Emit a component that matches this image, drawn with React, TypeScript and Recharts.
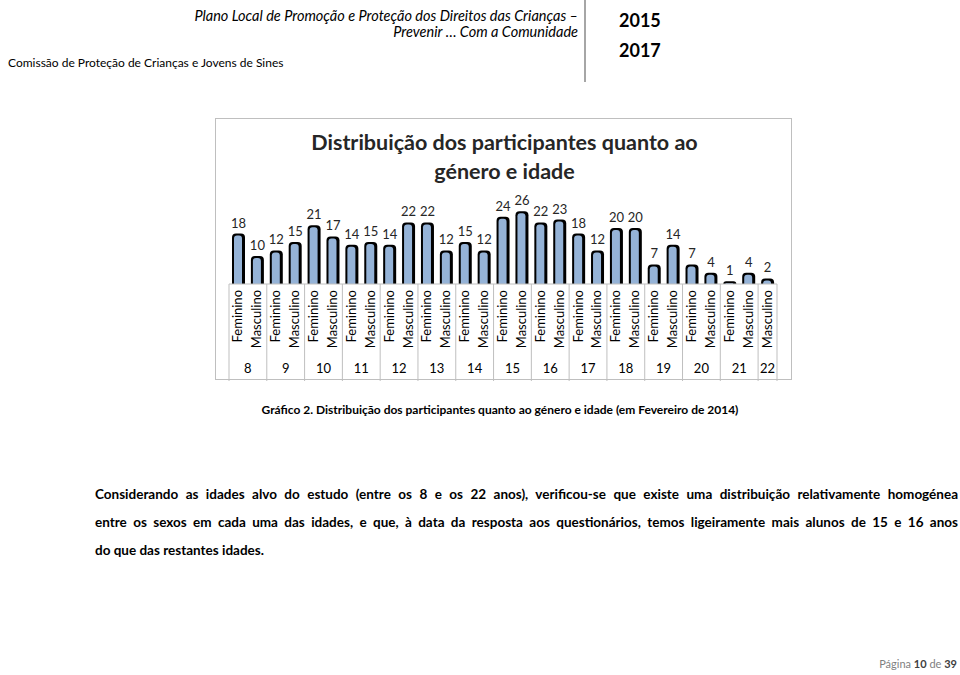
import React from "react";
import { BarChart, Bar, XAxis, YAxis, LabelList } from "recharts";

const ages = ["8", "8", "9", "9", "10", "10", "11", "11", "12", "12", "13", "13", "14", "14", "15", "15", "16", "16", "17", "17", "18", "18", "19", "19", "20", "20", "21", "21", "22"];
const sexes = ["Feminino", "Masculino", "Feminino", "Masculino", "Feminino", "Masculino", "Feminino", "Masculino", "Feminino", "Masculino", "Feminino", "Masculino", "Feminino", "Masculino", "Feminino", "Masculino", "Feminino", "Masculino", "Feminino", "Masculino", "Feminino", "Masculino", "Feminino", "Masculino", "Feminino", "Masculino", "Feminino", "Masculino", "Masculino"];
const participants = [18, 10, 12, 15, 21, 17, 14, 15, 14, 22, 22, 12, 15, 12, 24, 26, 22, 23, 18, 12, 20, 20, 7, 14, 7, 4, 1, 4, 2];

const data = participants.map((v, i) => ({
	key: ages[i] + "-" + i,
	age: ages[i],
	sex: sexes[i],
	value: v,
}));

const FONT = "Lato, 'Open Sans', sans-serif";
const CHART_W = 577;
const MARGIN_L = 14;
const MARGIN_R = 15;
const BAND = (CHART_W - MARGIN_L - MARGIN_R) / data.length;

const BarShape = (props: any) => {
	const { x, y, width, height } = props;
	if (!height || height <= 0) return null;
	const r = Math.min(4, height);
	const outer = `M${x},${y + height} L${x},${y + r} Q${x},${y} ${x + r},${y} L${x + width - r},${y} Q${x + width},${y} ${x + width},${y + r} L${x + width},${y + height} Z`;
	const ix = x + 2;
	const iy = y + 2;
	const iw = width - 5;
	const ih = height - 2;
	const ir = Math.min(3, ih);
	const inner = `M${ix},${iy + ih} L${ix},${iy + ir} Q${ix},${iy} ${ix + ir},${iy} L${ix + iw - ir},${iy} Q${ix + iw},${iy} ${ix + iw},${iy + ir} L${ix + iw},${iy + ih} Z`;
	return (
		<g>
			<path d={outer} fill="#000" />
			{ih > 0 && <path d={inner} fill="#95B3D7" />}
		</g>
	);
};

const SexAgeTick = (props: any) => {
	const { x, y, index } = props;
	const row = data[index];
	if (!row) return null;
	const groupStart = index === 0 || data[index - 1].age !== row.age;
	const groupEnd = index === data.length - 1 || data[index + 1].age !== row.age;
	const isPair = !(groupStart && groupEnd);
	const ageX = isPair ? x + BAND / 2 : x;
	return (
		<g>
			<text
				x={x + 4}
				y={y + 6}
				transform={`rotate(-90, ${x + 4}, ${y + 6})`}
				textAnchor="end"
				fontSize={13}
				fontFamily={FONT}
				fill="#000"
			>
				{row.sex}
			</text>
			{groupStart && (
				<line x1={x - BAND / 2} x2={x - BAND / 2} y1={y} y2={y + 97} stroke="#bfbfbf" />
			)}
			{index === data.length - 1 && (
				<line x1={x + BAND / 2} x2={x + BAND / 2} y1={y} y2={y + 97} stroke="#bfbfbf" />
			)}
			{groupStart && (
				<text x={ageX} y={y + 89} textAnchor="middle" fontSize={13} fontFamily={FONT} fill="#000">
					{row.age}
				</text>
			)}
		</g>
	);
};

export default function App() {
	return (
		<div
			style={{
				position: "absolute",
				left: 0,
				top: 0,
				width: 960,
				height: 675,
				background: "#fff",
				fontFamily: FONT,
				color: "#000",
				overflow: "hidden",
			}}
		>
			{/* header */}
			<div style={{ position: "absolute", right: 382, top: 8, textAlign: "right", fontStyle: "italic", fontSize: 14.5, lineHeight: "16px", color: "#000", whiteSpace: "nowrap" }}>
				<div>Plano Local de Promoção e Proteção dos Direitos das Crianças –</div>
				<div>Prevenir … Com a Comunidade</div>
			</div>
			<div style={{ position: "absolute", left: 8, top: 55, fontSize: 12 }}>
				Comissão de Proteção de Crianças e Jovens de Sines
			</div>
			<div style={{ position: "absolute", left: 584, top: 0, width: 2, height: 82, background: "#a6a6a6" }} />
			<div style={{ position: "absolute", left: 619, top: 9, fontSize: 18, fontWeight: 700 }}>2015</div>
			<div style={{ position: "absolute", left: 619, top: 39, fontSize: 18, fontWeight: 700 }}>2017</div>

			{/* chart box */}
			<div
				style={{
					position: "absolute",
					left: 215,
					top: 118,
					width: CHART_W,
					height: 262,
					border: "1px solid #bfbfbf",
					boxSizing: "border-box",
				}}
			>
				<div style={{ position: "absolute", left: 0, top: 9, width: CHART_W, textAlign: "center", fontSize: 21.5, fontWeight: 700, lineHeight: "29px", color: "#262626" }}>
					<div>Distribuição dos participantes quanto ao</div>
					<div>género e idade</div>
				</div>
				<div style={{ position: "absolute", left: -1, top: 71 }}>
					<BarChart
						width={CHART_W}
						height={191}
						data={data}
						margin={{ top: 10, right: MARGIN_R, left: MARGIN_L, bottom: 0 }}
						barSize={13}
					>
						<YAxis hide domain={[0, 30]} />
						<XAxis
							dataKey="key"
							interval={0}
							height={97}
							tickSize={0}
							tickMargin={0}
							axisLine={{ stroke: "#bfbfbf" }}
							tickLine={false}
							tick={<SexAgeTick />}
						/>
						<Bar dataKey="value" shape={<BarShape />} isAnimationActive={false}>
							<LabelList dataKey="value" position="top" offset={6} fontSize={13} fontFamily={FONT} fill="#262626" />
						</Bar>
					</BarChart>
				</div>
			</div>

			{/* caption */}
			<div style={{ position: "absolute", left: 0, top: 402, width: 1000, textAlign: "center", fontSize: 12, fontWeight: 700 }}>
				Gráfico 2. Distribuição dos participantes quanto ao género e idade (em Fevereiro de 2014)
			</div>

			{/* paragraph */}
			<div style={{ position: "absolute", left: 95, top: 480, width: 863, fontSize: 13.5, fontWeight: 700, lineHeight: "28px" }}>
				<div style={{ textAlign: "justify", textAlignLast: "justify", whiteSpace: "nowrap" }}>
					Considerando as idades alvo do estudo (entre os 8 e os 22 anos), verificou-se que existe uma distribuição relativamente homogénea
				</div>
				<div style={{ textAlign: "justify", textAlignLast: "justify", whiteSpace: "nowrap" }}>
					entre os sexos em cada uma das idades, e que, à data da resposta aos questionários, temos ligeiramente mais alunos de 15 e 16 anos
				</div>
				<div>do que das restantes idades.</div>
			</div>

			{/* footer */}
			<div style={{ position: "absolute", right: 3, top: 657, fontSize: 11, color: "#7f7f7f" }}>
				Página <b style={{ color: "#404040" }}>10</b> de <b style={{ color: "#404040" }}>39</b>
			</div>
		</div>
	);
}
